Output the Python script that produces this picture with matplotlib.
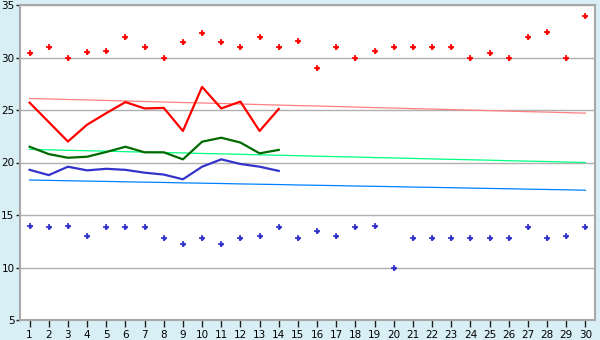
import matplotlib
matplotlib.use("Agg")
import matplotlib.pyplot as plt

days = list(range(1, 31))
record_max = [30.4, 31.0, 30.0, 30.5, 30.6, 32.0, 31.0, 30.0, 31.5, 32.3,
              31.5, 31.0, 32.0, 31.0, 31.6, 29.0, 31.0, 30.0, 30.6, 31.0,
              31.0, 31.0, 31.0, 30.0, 30.4, 30.0, 32.0, 32.4, 30.0, 34.0]
record_min = [14.0, 13.9, 14.0, 13.0, 13.9, 13.9, 13.9, 12.8, 12.2, 12.8,
              12.2, 12.8, 13.0, 13.9, 12.8, 13.5, 13.0, 13.9, 14.0, 10.0,
              12.8, 12.8, 12.8, 12.8, 12.8, 12.8, 13.9, 12.8, 13.0, 13.9]
normal_max = [26.10, 26.05, 26.00, 25.96, 25.91, 25.86, 25.81, 25.76, 25.71, 25.67,
              25.62, 25.57, 25.52, 25.47, 25.42, 25.38, 25.33, 25.28, 25.23, 25.18,
              25.13, 25.09, 25.04, 24.99, 24.94, 24.89, 24.84, 24.80, 24.75, 24.70]
normal_mean = [21.25, 21.21, 21.16, 21.12, 21.08, 21.03, 20.99, 20.95, 20.91, 20.86,
               20.82, 20.78, 20.73, 20.69, 20.65, 20.60, 20.56, 20.52, 20.47, 20.43,
               20.39, 20.34, 20.30, 20.26, 20.22, 20.17, 20.13, 20.09, 20.04, 20.00]
normal_min = [18.33, 18.30, 18.26, 18.23, 18.20, 18.16, 18.13, 18.10, 18.06, 18.03,
              18.00, 17.96, 17.93, 17.90, 17.86, 17.83, 17.80, 17.76, 17.73, 17.70,
              17.66, 17.63, 17.60, 17.56, 17.53, 17.50, 17.46, 17.43, 17.40, 17.36]
obs_days = list(range(1, 15))
obs_max = [25.7, 23.85, 22.0, 23.6, 24.7, 25.75, 25.15, 25.2, 23.0, 27.2, 25.15, 25.8, 23.0, 25.1]
obs_mean = [21.5, 20.8, 20.45, 20.55, 21.0, 21.5, 20.97, 20.97, 20.3, 21.98, 22.36, 21.9, 20.87, 21.2]
obs_min = [19.3, 18.8, 19.6, 19.25, 19.4, 19.3, 19.03, 18.85, 18.4, 19.6, 20.3, 19.86, 19.6, 19.2]
y_ticks = [5, 10, 15, 20, 25, 30, 35]

bg = "#d9eff6"
fig = plt.figure(figsize=(6.0, 3.4), dpi=100, facecolor=bg)
ax = fig.add_axes([20/600, 1-320/340, 575/600, 315/340])
ax.set_facecolor("white")

for v in y_ticks:
    ax.axhline(v, color="#b0b0b0", lw=1.0, zorder=1)

ax.plot(days, normal_max, color="#ff8080", lw=0.9, zorder=2)
ax.plot(days, normal_mean, color="#00ff80", lw=0.9, zorder=2)
ax.plot(days, normal_min, color="#0080ff", lw=0.9, zorder=2)

ax.plot(obs_days, obs_max, color="#ff0000", lw=1.6, zorder=3)
ax.plot(obs_days, obs_mean, color="#006a00", lw=1.6, zorder=3)
ax.plot(obs_days, obs_min, color="#3333cc", lw=1.6, zorder=3)

for series, col in ((record_max, "#ff0000"), (record_min, "#3333cc")):
    ax.plot(days, series, linestyle="none", marker="D", markersize=2.6,
            color=col, markeredgewidth=0, zorder=4)
    ax.plot(days, series, linestyle="none", marker="+", markersize=4.5,
            color=col, markeredgewidth=1.2, zorder=4)

ax.set_xlim(0.5, 30.5)
ax.set_ylim(5, 35)
ax.set_xticks(days)
ax.set_xticklabels([str(d) for d in days])
ax.set_yticks(y_ticks)
ax.set_yticklabels([str(v) for v in y_ticks])
ax.tick_params(axis="x", direction="out", length=5, width=1, color="#202020",
               labelsize=7.5, pad=2)
ax.tick_params(axis="y", direction="out", length=3, width=1, color="#202020",
               labelsize=7.5, pad=1)
for s in ax.spines.values():
    s.set_color("#a8a8a8")
    s.set_linewidth(1.5)

fig.savefig("out.png", dpi=100, facecolor=bg)
